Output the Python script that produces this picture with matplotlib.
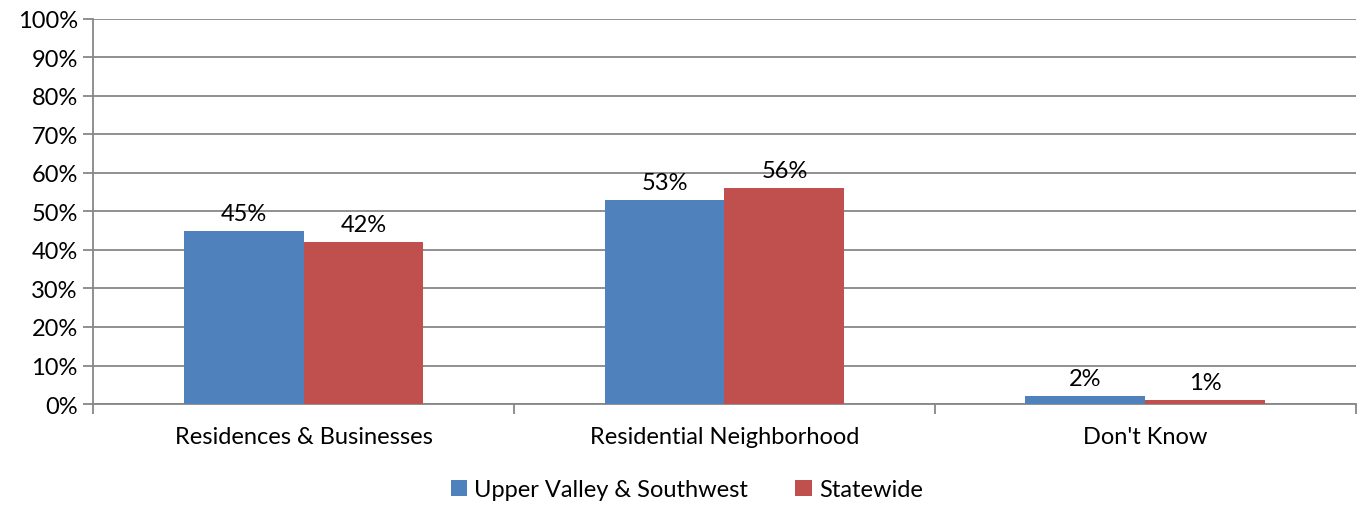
import matplotlib
matplotlib.use("Agg")
from matplotlib import pyplot as plt
import numpy as np

plt.rcParams['font.family'] = ['Lato', 'DejaVu Sans']

categories = ["Residences & Businesses", "Residential Neighborhood", "Don't Know"]
series_names = ["Upper Valley & Southwest", "Statewide"]
upper_valley = [45, 53, 2]
statewide = [42, 56, 1]
colors = ["#4F81BD", "#C0504D"]
grid_color = "#878787"
fs = 17

fig = plt.figure(figsize=(13.64, 5.06), dpi=100)
ax = fig.add_axes([0.0682, 0.1996, 0.9259, 0.7609])

x = np.arange(len(categories))
w = 0.285
b1 = ax.bar(x - w / 2, upper_valley, w, color=colors[0], label=series_names[0], zorder=3)
b2 = ax.bar(x + w / 2, statewide, w, color=colors[1], label=series_names[1], zorder=3)
for bars in (b1, b2):
    ax.bar_label(bars, labels=[f"{v}%" for v in bars.datavalues], padding=5, fontsize=fs, zorder=4)

ax.set_xlim(-0.5, len(categories) - 0.5)
ax.set_ylim(0, 100)
ax.set_yticks(np.arange(0, 101, 10))
ax.set_yticklabels([f"{t}%" for t in range(0, 101, 10)], fontsize=fs)
ax.yaxis.grid(True, color=grid_color, linewidth=1.3, zorder=0)

# category labels in the middle, tick marks on the boundaries
ax.set_xticks(x)
ax.set_xticklabels(categories, fontsize=fs)
ax.tick_params(axis='x', length=0, pad=16)
ax.set_xticks(np.arange(-0.5, len(categories)), minor=True)
ax.tick_params(axis='x', which='minor', length=7, color=grid_color, width=1.3)
ax.tick_params(axis='y', length=7, color=grid_color, width=1.3, pad=4)

for s in ['top', 'right']:
    ax.spines[s].set_visible(False)
for s in ['left', 'bottom']:
    ax.spines[s].set_color(grid_color)
    ax.spines[s].set_linewidth(1.3)

ax.legend(loc='center', bbox_to_anchor=(0.47, -0.223), ncol=2, frameon=False,
          fontsize=fs, handlelength=0.7, handleheight=0.7, handletextpad=0.3, columnspacing=2.0)

plt.savefig("out.png", dpi=100)
